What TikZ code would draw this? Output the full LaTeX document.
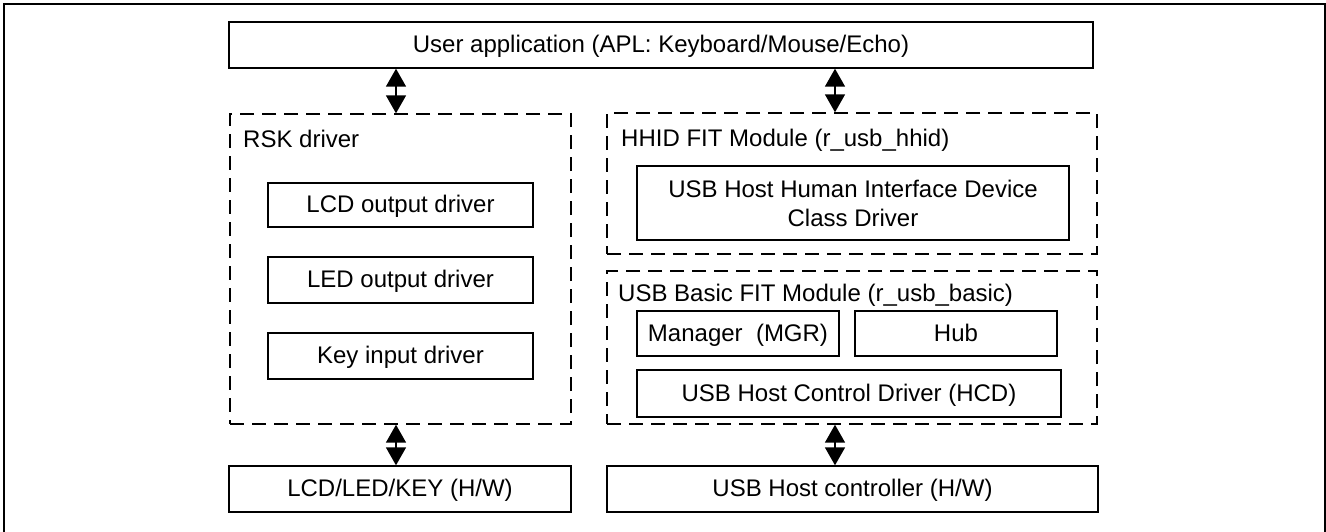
\documentclass[tikz,border=0pt]{standalone}
\usepackage{fontspec}
\setmainfont{Liberation Sans}
\usetikzlibrary{arrows.meta}

\begin{document}
\begin{tikzpicture}[x=1pt, y=-1pt,
    box/.style={rectangle, draw, line width=1.4pt, inner sep=0pt, align=center},
    cell/.style={box, text height=18pt, text depth=3pt},
    group/.style={rectangle, draw, dashed, dash pattern=on 14pt off 8pt, line width=1.4pt},
    title/.style={anchor=base west, inner sep=0pt},
    link/.style={line width=1.6pt, {Triangle[width=20pt,length=18pt]}-{Triangle[width=20pt,length=18pt]}}]
    \useasboundingbox (0,0) rectangle (1326,531);
    \draw[line width=2pt] (4,4) rectangle (1325,540);
    \fontsize{24}{29}\selectfont
    \node[cell, minimum width=864pt, minimum height=46pt] (app) at (661,45) {User application (APL: Keyboard/Mouse/Echo)};
    % RSK side
    \node[group, minimum width=341pt, minimum height=310pt] (rsk) at (400.5,269) {};
    \node[title] (rsktitle) at (243,147) {RSK driver};
    \node[cell, minimum width=265pt, minimum height=44pt] (lcd) at (400.5,205) {LCD output driver};
    \node[cell, minimum width=265pt, minimum height=46pt] (led) at (400.5,280) {LED output driver};
    \node[cell, minimum width=265pt, minimum height=46pt] (key) at (400.5,356) {Key input driver};
    \node[cell, minimum width=342pt, minimum height=46pt] (rskhw) at (400,489) {LCD/LED/KEY (H/W)};
    % USB side
    \node[group, minimum width=490pt, minimum height=141pt] (hhid) at (852,183.5) {};
    \node[title] (hhidtitle) at (621,146) {HHID FIT Module (r\_usb\_hhid)};
    \node[box, minimum width=432pt, minimum height=74pt] (hid) at (853,203) {USB Host Human Interface Device\\Class Driver};
    \node[group, minimum width=490pt, minimum height=153pt] (basic) at (852,347.5) {};
    \node[title] (basictitle) at (618,301) {USB Basic FIT Module (r\_usb\_basic)};
    \node[cell, minimum width=202pt, minimum height=45pt] (mgr) at (738,333.5) {Manager\ \ (MGR)};
    \node[cell, minimum width=202pt, minimum height=45pt] (hub) at (956,333.5) {Hub};
    \node[cell, minimum width=424pt, minimum height=47pt] (hcd) at (849,393.5) {USB Host Control Driver (HCD)};
    \node[cell, minimum width=491pt, minimum height=46pt] (usbhw) at (852.5,489) {USB Host controller (H/W)};
    % arrows
    \draw[link] (396,0 |- app.south) -- (396,0 |- rsk.north);
    \draw[link] (835,0 |- app.south) -- (835,0 |- hhid.north);
    \draw[link] (396,0 |- rsk.south) -- (396,0 |- rskhw.north);
    \draw[link] (835,0 |- basic.south) -- (835,0 |- usbhw.north);
\end{tikzpicture}
\end{document}
